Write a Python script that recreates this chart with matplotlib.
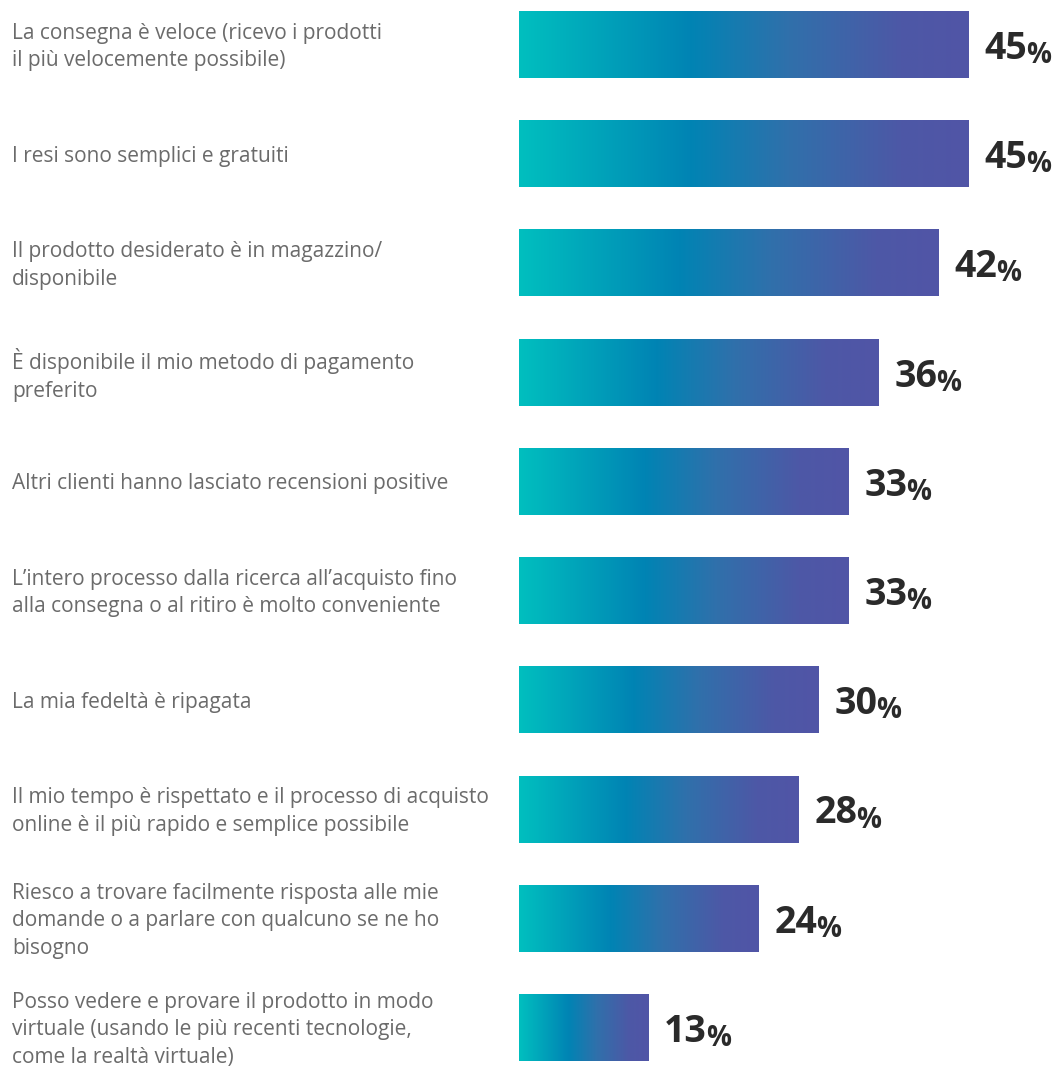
import numpy as np
import matplotlib
matplotlib.use("Agg")
import matplotlib.pyplot as plt
from matplotlib.colors import LinearSegmentedColormap
from matplotlib.transforms import offset_copy

labels = [
    "La consegna è veloce (ricevo i prodotti\nil più velocemente possibile)",
    "I resi sono semplici e gratuiti",
    "Il prodotto desiderato è in magazzino/\ndisponibile",
    "È disponibile il mio metodo di pagamento\npreferito",
    "Altri clienti hanno lasciato recensioni positive",
    "L’intero processo dalla ricerca all’acquisto fino\nalla consegna o al ritiro è molto conveniente",
    "La mia fedeltà è ripagata",
    "Il mio tempo è rispettato e il processo di acquisto\nonline è il più rapido e semplice possibile",
    "Riesco a trovare facilmente risposta alle mie\ndomande o a parlare con qualcuno se ne ho\nbisogno",
    "Posso vedere e provare il prodotto in modo\nvirtuale (usando le più recenti tecnologie,\ncome la realtà virtuale)",
]
values = [45, 45, 42, 36, 33, 33, 30, 28, 24, 13]

grad = LinearSegmentedColormap.from_list(
    "bar_grad",
    [(0.0, "#00bfbf"), (0.38, "#0084b4"), (0.6, "#3070ab"),
     (0.85, "#4d58a6"), (1.0, "#5155a6")],
)

W, H = 1060, 1068
fig = plt.figure(figsize=(W / 100, H / 100), dpi=100)
ax = fig.add_axes([519 / W, 0, 1 - 519 / W, 1])
ax.set_xlim(0, (W - 519) / 10)
ax.set_ylim(9 + 40 / 109.2, -45 / 109.2)
ax.axis("off")

bar_h = 66 / 109.2
ramp = np.linspace(0, 1, 256).reshape(1, -1)

for i, (lab, v) in enumerate(zip(labels, values)):
    ax.imshow(ramp, cmap=grad, aspect="auto", interpolation="bilinear",
              extent=(0, v, i + bar_h / 2, i - bar_h / 2))

    # category text on the left, nudged a little below the bar centre
    y_fig = (ax.transData.transform((0, i))[1] - 2) / H
    fig.text(12 / W, y_fig, lab, fontsize=15, family="Open Sans",
             color="#6b6b6b", va="center", ha="left", linespacing=1.42)

    # value number with smaller percent sign
    tr = offset_copy(ax.transData, fig=fig, x=11, y=-10, units="points")
    num = ax.text(v, i, str(v), transform=tr, fontsize=27, weight="bold",
                  family="Open Sans", color="#2a2a2a", va="baseline", ha="left")
    ax.annotate("%", xy=(1, 0), xycoords=num, xytext=(-0.5, -1.5),
                textcoords="offset points", fontsize=20, weight="bold",
                family="Open Sans", color="#2a2a2a", va="bottom", ha="left")

fig.savefig("out.png", dpi=100)
